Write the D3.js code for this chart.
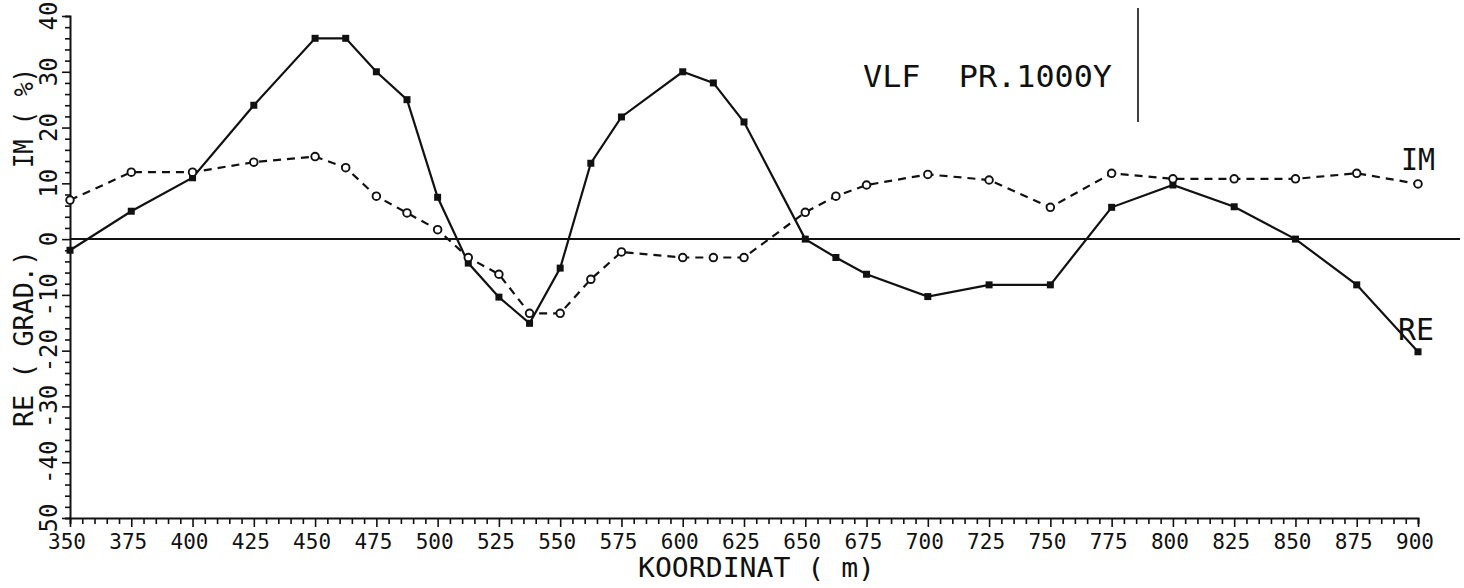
<!DOCTYPE html>
<html>
<head>
<meta charset="utf-8">
<script src="https://cdn.jsdelivr.net/npm/d3@7"></script>
<style>
  html, body { margin: 0; padding: 0; background: #fff; }
  svg { display: block; }
  text { font-family: "DejaVu Sans Mono", "Liberation Mono", monospace; fill: #111; white-space: pre; }
</style>
</head>
<body>
<svg id="chart" width="1464" height="588"></svg>
<script>
// ---- data ----
const reX = [350, 375, 400, 425, 450, 462.5, 475, 487.5, 500, 512.5, 525, 537.5, 550, 562.5, 575, 600, 612.5, 625, 650, 662.5, 675, 700, 725, 750, 775, 800, 825, 850, 875, 900];
const reValues = [-2, 5, 11, 24, 36, 36, 30, 25, 7.5, -4.3, -10.4, -15.1, -5.2, 13.6, 21.9, 30, 28, 21, 0, -3.3, -6.3, -10.3, -8.2, -8.2, 5.7, 9.7, 5.8, 0, -8.2, -20.2];
const imX = [350, 375, 400, 425, 450, 462.5, 475, 487.5, 500, 512.5, 525, 537.5, 550, 562.5, 575, 600, 612.5, 625, 650, 662.5, 675, 700, 725, 750, 775, 800, 825, 850, 875, 900];
const imValues = [7, 12, 12, 13.8, 14.8, 12.8, 7.7, 4.7, 1.7, -3.3, -6.3, -13.3, -13.3, -7.2, -2.3, -3.3, -3.3, -3.3, 4.8, 7.7, 9.7, 11.6, 10.6, 5.7, 11.8, 10.8, 10.8, 10.8, 11.8, 9.9];
const xTickValues = [350, 375, 400, 425, 450, 475, 500, 525, 550, 575, 600, 625, 650, 675, 700, 725, 750, 775, 800, 825, 850, 875, 900];
const xTickLabels = ["350", "375", "400", "425", "450", "475", "500", "525", "550", "575", "600", "625", "650", "675", "700", "725", "750", "775", "800", "825", "850", "875", "900"];
const yTickValues = [40, 30, 20, 10, 0, -10, -20, -30, -40, -50];
const yTickLabels = ["40", "30", "20", "10", "0", "-10", "-20", "-30", "-40", "50"];
const titleText = "VLF  PR.1000Y";
const xAxisTitle = "KOORDINAT ( m)";
const yTitleRe = "RE ( GRAD.)";
const yTitleIm = "IM ( %)";
const seriesLabels = ["IM", "RE"];

// ---- layout ----
const svg = d3.select("#chart");
const x = d3.scaleLinear().domain([350, 900]).range([70, 1418]);
const y = d3.scaleLinear().domain([-50, 40]).range([518, 16]);
const ink = "#111";

// bottom axis: minor every 5, labels every 25
const xMinor = d3.range(350, 901, 5);
const xAxis = d3.axisBottom(x).tickValues(xMinor).tickSizeOuter(0).tickFormat("").tickSize(6);
const gx = svg.append("g").attr("transform", `translate(0,${y(-50)})`).call(xAxis);
gx.select(".domain").attr("stroke", ink).attr("stroke-width", 2);
gx.selectAll(".tick line").attr("stroke", ink).attr("stroke-width", 1.6)
  .attr("y2", d => (d % 25 === 0 ? 9 : 6));
svg.append("g").selectAll("text").data(xTickValues).join("text")
  .attr("x", d => x(d) - 3).attr("y", 549)
  .attr("text-anchor", "middle").attr("font-size", 21)
  .text((d, i) => xTickLabels[i]);

// left axis: minor every 2, labels every 10
const yMinor = d3.range(-50, 41, 2);
const yAxis = d3.axisLeft(y).tickValues(yMinor).tickSizeOuter(0).tickFormat("").tickSize(5);
const gy = svg.append("g").attr("transform", `translate(${x(350)},0)`).call(yAxis);
gy.select(".domain").attr("stroke", ink).attr("stroke-width", 2);
gy.selectAll(".tick line").attr("stroke", ink).attr("stroke-width", 1.6)
  .attr("x2", d => (d % 10 === 0 ? -8 : -5));
svg.append("g").selectAll("text").data(yTickValues).join("text")
  .attr("transform", d => `translate(57,${y(d)}) rotate(-90)`)
  .attr("text-anchor", "middle").attr("font-size", 24)
  .text((d, i) => yTickLabels[i]);

// zero line
svg.append("line").attr("x1", x(350)).attr("x2", 1460).attr("y1", y(0)).attr("y2", y(0))
  .attr("stroke", ink).attr("stroke-width", 2);

// series
const reData = reX.map((d, i) => [d, reValues[i]]);
const imData = imX.map((d, i) => [d, imValues[i]]);
const line = d3.line().x(d => x(d[0])).y(d => y(d[1]));

svg.append("path").datum(imData).attr("d", line).attr("fill", "none")
  .attr("stroke", ink).attr("stroke-width", 2.2).attr("stroke-dasharray", "8,6");
svg.append("path").datum(reData).attr("d", line).attr("fill", "none")
  .attr("stroke", ink).attr("stroke-width", 2.2);

svg.append("g").selectAll("rect").data(reData).join("rect")
  .attr("x", d => x(d[0]) - 3.5).attr("y", d => y(d[1]) - 3.5)
  .attr("width", 7).attr("height", 7).attr("fill", ink);
svg.append("g").selectAll("circle").data(imData).join("circle")
  .attr("cx", d => x(d[0])).attr("cy", d => y(d[1])).attr("r", 3.8)
  .attr("fill", "#fff").attr("stroke", ink).attr("stroke-width", 1.9);

// series labels
svg.append("text").attr("x", 1401).attr("y", 170).attr("font-size", 30)
  .attr("textLength", 34).attr("lengthAdjust", "spacingAndGlyphs").text(seriesLabels[0]);
svg.append("text").attr("x", 1398).attr("y", 340).attr("font-size", 30)
  .attr("textLength", 36).attr("lengthAdjust", "spacingAndGlyphs").text(seriesLabels[1]);

// title
svg.append("text").attr("x", 863).attr("y", 87).attr("font-size", 30)
  .attr("textLength", 249).attr("lengthAdjust", "spacingAndGlyphs").text(titleText);
svg.append("line").attr("x1", 1138).attr("x2", 1138).attr("y1", 8).attr("y2", 122)
  .attr("stroke", ink).attr("stroke-width", 1.6);

// axis titles
svg.append("text").attr("x", 638).attr("y", 577).attr("font-size", 27)
  .attr("textLength", 237).attr("lengthAdjust", "spacingAndGlyphs").text(xAxisTitle);
svg.append("text").attr("transform", "translate(33,427) rotate(-90)").attr("font-size", 27)
  .attr("textLength", 177).attr("lengthAdjust", "spacingAndGlyphs").text(yTitleRe);
svg.append("text").attr("transform", "translate(33,168) rotate(-90)").attr("font-size", 27)
  .attr("textLength", 100).attr("lengthAdjust", "spacingAndGlyphs").text(yTitleIm);
</script>
</body>
</html>
